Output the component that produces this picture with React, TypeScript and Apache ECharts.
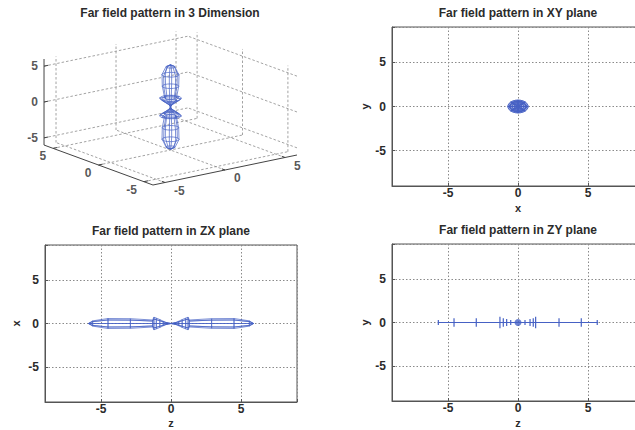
import React, { useEffect, useRef } from "react";
import * as echarts from "echarts";

// ---- data ----
// Lobe profile of the far-field body of revolution (upper half; mirrored for z < 0)
const profileZ = [0, 0.3, 0.55, 0.8, 1.05, 1.22, 1.32, 2.9, 4.5, 5.6, 5.9];
const profileRho = [0, 0.1, 0.26, 0.45, 0.62, 0.72, 0.4, 0.55, 0.57, 0.3, 0];
const meridianDeg = [0, 45, 90, 135, 180, 225, 270, 315];
const ringStepDeg = 15;

// ZY plane: ring positions along z and their half heights in y
const zyRingZ = [-5.69, -4.57, -2.98, -1.29, -1.05, -0.81, -0.52, 0.5, 0.86, 1.09, 1.26, 2.93, 4.52, 5.66];
const zyRingHalf = [0.3, 0.5, 0.5, 0.65, 0.5, 0.4, 0.3, 0.3, 0.4, 0.5, 0.65, 0.5, 0.5, 0.3];
const zyAxisExtent = [-5.7, 5.7];
const zyCenter = [0, 0];

// Axes
const ticks2D = [-5, 0, 5];
const range2D = [-9, 9];
const ticks3D = [-5, 0, 5];
const box3D = [-6, 6];

const titles = [
  "Far field pattern in 3 Dimension",
  "Far field pattern in XY plane",
  "Far field pattern in ZX plane",
  "Far field pattern in ZY plane",
];

// ---- view settings ----
const FONT = "'Liberation Sans', Arial, Helvetica, sans-serif";
const TXT = "#2b2b2b";
const BLUE = "#4661c4";
const GRIDC = "#8a8a8a";

// 3D oblique view (screen units per data unit along x, y, z)
const VX = [12, 2.5];
const VY = [-9.08, 3.33];
const VZ = [0, 7.17];
const proj = (x: number, y: number, z: number): number[] => [
  VX[0] * x + VY[0] * y + VZ[0] * z,
  VX[1] * x + VY[1] * y + VZ[1] * z,
];

const RAD = Math.PI / 180;

function meshLines(): number[][][] {
  const out: number[][][] = [];
  const fullZ = [...profileZ.slice().reverse().map((z) => -z), ...profileZ.slice(1)];
  const fullR = [...profileRho.slice().reverse(), ...profileRho.slice(1)];
  for (const deg of meridianDeg) {
    const p = deg * RAD;
    out.push(fullZ.map((z, i) => [fullR[i] * Math.cos(p), fullR[i] * Math.sin(p), z]));
  }
  for (let i = 0; i < profileZ.length; i++) {
    const r = profileRho[i];
    if (r <= 0) continue;
    for (const s of [1, -1]) {
      const pts: number[][] = [];
      for (let d = 0; d <= 360; d += ringStepDeg) {
        pts.push([r * Math.cos(d * RAD), r * Math.sin(d * RAD), s * profileZ[i]]);
      }
      out.push(pts);
    }
  }
  return out;
}

function buildOption() {
  const mesh = meshLines();
  const [lo, hi] = box3D;

  // 3D grid (dashed) lines
  const gridSeg: number[][][] = [];
  for (const t of ticks3D) {
    gridSeg.push([[t, hi, lo], [t, hi, hi]]);
    gridSeg.push([[lo, hi, t], [hi, hi, t]]);
    gridSeg.push([[hi, t, lo], [hi, t, hi]]);
    gridSeg.push([[hi, lo, t], [hi, hi, t]]);
    gridSeg.push([[t, lo, lo], [t, hi, lo]]);
    gridSeg.push([[lo, t, lo], [hi, t, lo]]);
  }
  const axisSeg: number[][][] = [
    [[lo, hi, lo], [lo, hi, hi]],
    [[lo, hi, lo], [lo, lo, lo]],
    [[lo, lo, lo], [hi, lo, lo]],
  ];
  for (const t of ticks3D) {
    axisSeg.push([[t, lo, lo], [t, lo + 0.35, lo]]);
    axisSeg.push([[lo, t, lo], [lo + 0.35, t, lo]]);
    axisSeg.push([[lo, hi, t], [lo + 0.35, hi, t]]);
  }

  const toLines = (segs: number[][][], f: (p: number[]) => number[]) =>
    segs.map((s) => ({ coords: s.map(f) }));

  const p3 = (p: number[]) => proj(p[0], p[1], p[2]);
  const pXY = (p: number[]) => [p[0], p[1]];
  const pZX = (p: number[]) => [p[2], p[0]];

  const labelStyle = { fontFamily: FONT, fontSize: 12, fontWeight: "bold" as const, color: TXT };

  const axis2D = (name: string, gridIndex: number, isY: boolean, gap: number) => ({
    type: "value",
    gridIndex,
    min: range2D[0],
    max: range2D[1],
    splitNumber: 4,
    minInterval: 5,
    maxInterval: 5,
    name,
    nameLocation: "middle",
    nameGap: gap,
    nameMoveOverlap: false,
    nameRotate: isY ? 90 : 0,
    nameTextStyle: { ...labelStyle, fontSize: 11, lineHeight: 11 },
    axisLine: { show: true, onZero: false, lineStyle: { color: "#555", width: 1 } },
    axisTick: { show: true, inside: true, length: 3, lineStyle: { color: "#555" } },
    axisLabel: {
      ...labelStyle,
      lineHeight: 12,
      margin: isY ? 6 : 1,
      formatter: (v: number) => (ticks2D.includes(v) ? String(v) : ""),
    },
    splitLine: { show: true, lineStyle: { color: GRIDC, type: [1.5, 2], width: 1 } },
  });

  const hidden = (gridIndex: number, min: number, max: number) => ({
    type: "value",
    gridIndex,
    min,
    max,
    show: false,
    splitLine: { show: false },
  });

  const lineSeries = (data: any[], xi: number, color: string, width: number, type: any = "solid") => ({
    type: "lines",
    coordinateSystem: "cartesian2d",
    xAxisIndex: xi,
    yAxisIndex: xi,
    polyline: true,
    silent: true,
    lineStyle: { color, width, opacity: 1, type },
    data,
  });

  const labelScatter = (pts: number[][], texts: string[], align: string, offset: number[]) => ({
    type: "scatter",
    xAxisIndex: 0,
    yAxisIndex: 0,
    symbolSize: 1,
    silent: true,
    itemStyle: { color: "rgba(0,0,0,0)" },
    label: {
      show: true,
      position: "inside",
      align,
      verticalAlign: "middle",
      offset,
      formatter: (p: any) => p.name,
      ...labelStyle,
    },
    data: pts.map((p, i) => ({ value: p, name: texts[i] })),
  });

  const tickText = ticks3D.map((t) => String(t));

  const zySegs: number[][][] = [
    [[zyAxisExtent[0], 0], [zyAxisExtent[1], 0]],
    ...zyRingZ.map((z, i) => [[z, -zyRingHalf[i]], [z, zyRingHalf[i]]]),
  ];

  const boxGrid = { show: true, borderColor: "#555", borderWidth: 1, backgroundColor: "#fff", outerBoundsMode: "none" };

  return {
    animation: false,
    backgroundColor: "#fff",
    title: [
      { text: titles[0], left: 170, top: 7 },
      { text: titles[1], left: 518, top: 7 },
      { text: titles[2], left: 171, top: 225 },
      { text: titles[3], left: 518, top: 224 },
    ].map((t) => ({
      ...t,
      textAlign: "center",
      padding: 0,
      textStyle: { fontFamily: FONT, fontSize: 12, fontWeight: "bold", color: TXT },
    })),
    grid: [
      { left: 0, top: 0, width: 320, height: 215, outerBoundsMode: "none" },
      { left: 392, top: 27, width: 252, height: 159, ...boxGrid },
      { left: 45, top: 245, width: 252, height: 157, ...boxGrid },
      { left: 392, top: 244, width: 252, height: 157, ...boxGrid },
    ],
    xAxis: [
      hidden(0, -170.5, 149.5),
      axis2D("x", 1, false, 16.5),
      axis2D("z", 2, false, 15.5),
      axis2D("z", 3, false, 16),
    ],
    yAxis: [
      hidden(0, -108, 107),
      axis2D("y", 1, true, 22),
      axis2D("x", 2, true, 24),
      axis2D("y", 3, true, 22),
    ],
    series: [
      lineSeries(toLines(gridSeg, p3), 0, "#8c8c8c", 0.8, [2.5, 2]),
      lineSeries(toLines(axisSeg, p3), 0, "#444", 1),
      lineSeries(toLines(mesh, p3), 0, BLUE, 0.7),
      labelScatter(ticks3D.map((t) => proj(lo, hi, t)), tickText, "right", [-6, 0]),
      labelScatter(ticks3D.map((t) => proj(lo, t, lo)), tickText, "right", [-7, 8]),
      labelScatter(ticks3D.map((t) => proj(t, lo, lo)), tickText, "left", [9, 8]),
      lineSeries(toLines(mesh, pXY), 1, BLUE, 0.8),
      lineSeries(toLines(mesh, pZX), 2, BLUE, 0.7),
      lineSeries(zySegs.map((s) => ({ coords: s })), 3, BLUE, 1.2),
      {
        type: "scatter",
        xAxisIndex: 3,
        yAxisIndex: 3,
        symbol: "circle",
        symbolSize: 7,
        silent: true,
        itemStyle: { color: BLUE },
        data: [zyCenter],
      },
    ],
  };
}

export default function App() {
  const ref = useRef<HTMLDivElement>(null);
  useEffect(() => {
    if (!ref.current) return;
    const chart = echarts.init(ref.current, undefined, { renderer: "svg" });
    chart.setOption(buildOption() as any);
    return () => chart.dispose();
  }, []);
  return (
    <div
      ref={ref}
      style={{ position: "absolute", left: 0, top: 0, width: 635, height: 430, background: "#fff" }}
    />
  );
}
